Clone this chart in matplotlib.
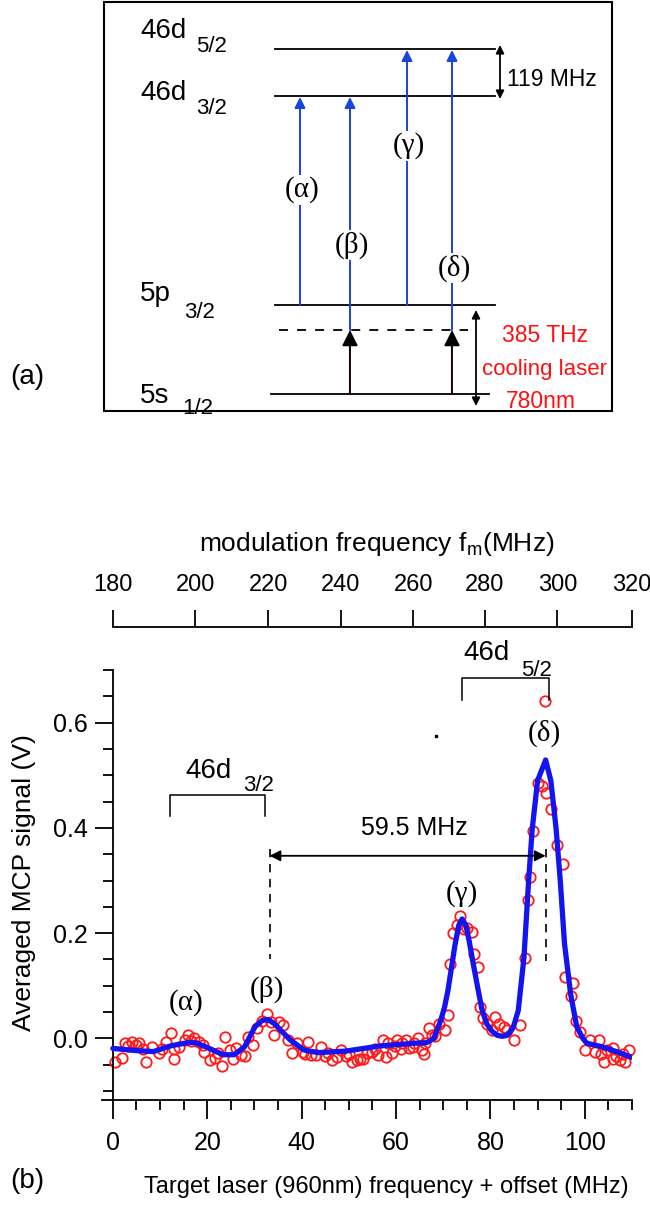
import numpy as np
import matplotlib
matplotlib.use('Agg')
import matplotlib.pyplot as plt
from matplotlib.patches import Rectangle

plt.rcParams['font.family'] = ['Liberation Sans', 'DejaVu Sans']
plt.rcParams['mathtext.fontset'] = 'custom'
plt.rcParams['mathtext.rm'] = 'Liberation Sans'

# ---- data (panel b) ----
# fitted curve (blue)
fit_x = [0.0, 4.8, 8.6, 12.3, 16.0, 17.5, 19.7, 23.4, 25.7, 27.9, 30.1, 31.6, 32.9,
         34.2, 35.3, 37.6, 40.5, 43.5, 49.4, 56.9, 64.3, 66.5, 68.0, 69.5, 70.3,
         71.0, 72.5, 73.3, 74.0, 74.8, 75.5, 76.4, 77.3, 78.2, 79.2, 80.3, 81.4,
         82.5, 83.6, 84.8, 85.9, 87.1, 88.1, 88.85, 90.0, 91.7, 92.8, 93.9, 94.8,
         95.7, 97.0, 98.3, 99.6, 100.4, 103.7, 106.7, 110.0]
fit_y = [-0.019, -0.023, -0.025, -0.014, -0.008, -0.008, -0.016, -0.031, -0.031,
         -0.016, 0.022, 0.034, 0.036, 0.028, 0.018, -0.003, -0.022, -0.027, -0.024,
         -0.014, -0.009, -0.008, 0.0, 0.035, 0.060, 0.091, 0.178, 0.215, 0.227,
         0.215, 0.185, 0.140, 0.097, 0.055, 0.028, 0.014, 0.006, 0.004, 0.006, 0.020,
         0.053, 0.153, 0.300, 0.397, 0.490, 0.529, 0.490, 0.400, 0.300, 0.180, 0.084,
         0.022, 0.000, -0.009, -0.016, -0.025, -0.036]

# measured points (red circles)
meas_x = [0.4, 1.9, 2.6, 4.1, 4.8, 5.6, 7.1, 8.2, 9.7, 11.2, 12.3, 13.0, 14.1, 15.2,
          16.0, 17.1, 18.2, 19.3, 20.5, 21.6, 23.1, 23.8, 24.9, 26.0, 27.1, 27.9,
          28.6, 29.7, 30.5, 31.6, 32.7, 33.5, 34.2, 35.3, 36.1, 37.2, 37.9, 39.0,
          40.2, 41.3, 42.0, 43.1, 44.2, 45.0, 46.5, 48.3, 49.4, 50.6, 51.7, 52.4,
          53.9, 55.0, 56.1, 57.3, 58.4, 59.1, 60.2, 61.3, 62.1, 62.8, 63.6, 64.7,
          65.4, 66.2, 66.9, 67.7, 69.1, 70.3, 71.0, 71.4, 72.1, 72.9, 73.6, 74.4,
          75.1, 76.2, 76.6, 77.3, 77.7, 78.4, 79.2, 80.3, 81.0, 81.8, 82.9, 83.6,
          85.1, 86.3, 87.4, 88.0, 88.3, 89.0, 90.1, 90.9, 91.5, 91.8, 92.8, 94.1,
          95.4, 95.9, 97.4, 97.0, 98.1, 98.9, 100.0, 101.1, 102.2, 103.0, 104.1,
          104.8, 106.0, 106.7, 107.4, 108.6, 109.3,
          3.2, 6.3, 10.4, 12.9, 16.6, 19.0, 22.3, 25.5, 40.8, 45.6, 47.4, 50.0,
          53.1, 55.6, 57.8, 59.7, 61.0, 63.9, 65.9, 68.3, 103.5, 106.0, 108.0]
meas_y = [-0.044, -0.038, -0.009, -0.006, -0.013, -0.009, -0.044, -0.016, -0.028,
          -0.006, 0.011, -0.039, -0.016, -0.003, 0.006, 0.000, -0.006, -0.025,
          -0.041, -0.038, -0.053, 0.002, -0.022, -0.019, -0.031, -0.034, 0.003,
          -0.013, 0.019, 0.034, 0.047, 0.031, 0.006, 0.031, 0.025, -0.003, -0.028,
          -0.009, -0.025, -0.006, -0.031, -0.031, -0.016, -0.034, -0.041, -0.022,
          -0.034, -0.044, -0.041, -0.039, -0.028, -0.025, -0.031, -0.003, -0.009,
          -0.028, -0.003, -0.009, -0.003, -0.019, -0.016, 0.000, -0.022, -0.009,
          0.019, 0.006, 0.028, 0.016, 0.044, 0.141, 0.200, 0.216, 0.233, 0.207,
          0.210, 0.203, 0.160, 0.135, 0.059, 0.038, 0.028, 0.016, 0.041, 0.028,
          0.022, 0.016, -0.003, 0.025, 0.153, 0.263, 0.307, 0.394, 0.486, 0.479,
          0.641, 0.466, 0.436, 0.368, 0.332, 0.116, 0.106, 0.081, 0.034, 0.013,
          -0.022, -0.003, -0.025, -0.003, -0.044, -0.022, -0.019, -0.034, -0.041,
          -0.044, -0.022,
          -0.015, -0.020, -0.020, -0.020, -0.004, -0.012, -0.028, -0.040, -0.030,
          -0.028, -0.035, -0.030, -0.040, -0.020, -0.035, -0.015, -0.020, -0.008,
          -0.030, 0.005, -0.030, -0.040, -0.030]

# top axis: modulation frequency ticks and where they fall on the bottom scale
top_ticks = [180, 200, 220, 240, 260, 280, 300, 320]
top_tick_pos = [0.0, 17.5, 32.9, 48.3, 63.7, 78.8, 94.2, 110.0]

peak_labels = ['(α)', '(β)', '(γ)', '(δ)']
peak_label_x = [15.6, 32.7, 74.0, 91.4]
peak_label_y = [0.069, 0.094, 0.275, 0.579]

# ---- data (panel a): level diagram, in pixel units of the figure ----
level_y = {'46d52': 49, '46d32': 96, '5p32': 305, 'virt': 330, '5s12': 394}
blue_x = [300, 350, 407, 452]
blue_from = [305, 330, 305, 330]
blue_to = [96, 96, 49, 49]
greek_y = [190, 245, 146, 268]

fig = plt.figure(figsize=(6.5, 12.11), dpi=100)

# overlay axes in pixel coordinates for panel (a) and labels
ov = fig.add_axes([0, 0, 1, 1])
ov.set_xlim(0, 650)
ov.set_ylim(1211, 0)
ov.axis('off')

ov.add_patch(Rectangle((104, 2), 508, 409, fill=False, ec='black', lw=1.5))

for key in ['46d52', '46d32', '5p32']:
    ov.plot([275, 495], [level_y[key]] * 2, color='black', lw=1.3)
ov.plot([279, 468], [level_y['virt']] * 2, color='black', lw=1.3, ls=(0, (5, 5)))
ov.plot([271, 489], [level_y['5s12']] * 2, color='black', lw=1.3)

# level names with subscripts
lev_fs, sub_fs = 20, 16
ov.text(140, 31, '46d', fontsize=lev_fs, va='center')
ov.text(196, 47, '5/2', fontsize=sub_fs, va='center')
ov.text(140, 93, '46d', fontsize=lev_fs, va='center')
ov.text(196, 108, '3/2', fontsize=sub_fs, va='center')
ov.text(140, 294, '5p', fontsize=lev_fs, va='center')
ov.text(184, 312, '3/2', fontsize=sub_fs, va='center')
ov.text(140, 396, '5s', fontsize=lev_fs, va='center')
ov.text(182, 409, '1/2', fontsize=sub_fs, va='center')

blue_c = '#1a44dc'
for x, y0, y1 in zip(blue_x, blue_from, blue_to):
    ov.annotate('', xy=(x, y1 + 1), xytext=(x, y0),
                arrowprops=dict(arrowstyle='-|>', color=blue_c, lw=1.4,
                                mutation_scale=16, shrinkA=0, shrinkB=0))
for x, y, lab in zip(blue_x, greek_y, peak_labels):
    ov.text(x + 2, y, lab, fontsize=21, family='Liberation Serif', ha='center',
            va='center', bbox=dict(fc='white', ec='none', pad=1))

# cooling laser arrows (black with a thin red edge)
for x in [350, 452]:
    ov.plot([x - 1, x - 1], [level_y['5s12'], level_y['virt'] + 12], color='#e01010', lw=0.8)
    ov.annotate('', xy=(x, level_y['virt']), xytext=(x, level_y['5s12']),
                arrowprops=dict(arrowstyle='-|>', color='black', lw=1.3,
                                mutation_scale=24, shrinkA=0, shrinkB=0))

# splitting arrows
ov.annotate('', xy=(500, 45), xytext=(500, 99),
            arrowprops=dict(arrowstyle='<|-|>', color='black', lw=1.3,
                            mutation_scale=12, shrinkA=0, shrinkB=0))
ov.text(507, 80, '119 MHz', fontsize=16.5, va='center')
ov.annotate('', xy=(476, 310), xytext=(476, 406),
            arrowprops=dict(arrowstyle='<|-|>', color='black', lw=1.3,
                            mutation_scale=12, shrinkA=0, shrinkB=0))
red_c = '#ff1010'
ov.text(545, 336, '385 THz', fontsize=16.5, color=red_c, ha='center', va='center')
ov.text(544, 369, 'cooling laser', fontsize=16, color=red_c, ha='center', va='center')
ov.text(541, 401, '780nm', fontsize=16.5, color=red_c, ha='center', va='center')

ov.text(10, 377, '(a)', fontsize=20, va='center')
ov.text(10, 1181, '(b)', fontsize=20, va='center')

# ---- panel (b) ----
ax = fig.add_axes([102 / 650, 1 - 1100 / 1211, 530 / 650, 430 / 1211])
ax.set_xlim(-2.3, 110)
ax.set_ylim(-0.117, 0.7)
ax.patch.set_visible(False)
for s in ['top', 'right']:
    ax.spines[s].set_visible(False)
ax.spines['left'].set_position(('data', 0))
ax.spines['left'].set_linewidth(1.3)
ax.spines['bottom'].set_linewidth(1.3)

ax.plot(meas_x, meas_y, 'o', ms=7.5, mfc='none', mec='#ff1a1a', mew=1.3,
        zorder=2, clip_on=False)
ax.plot(fit_x, fit_y, color='#1414f0', lw=3.8, zorder=3, solid_capstyle='round')

ax.set_xticks([0, 20, 40, 60, 80, 100])
ax.set_xticks(np.arange(0, 111, 5), minor=True)
ax.set_yticks([0.0, 0.2, 0.4, 0.6])
ax.set_yticklabels(['0.0', '0.2', '0.4', '0.6'])
ax.set_yticks(np.arange(-0.1, 0.71, 0.05), minor=True)
ax.tick_params(axis='x', which='major', direction='out', length=14, width=1.3,
               labelsize=18, pad=8)
ax.tick_params(axis='x', which='minor', direction='out', length=7, width=1.3)
ax.tick_params(axis='y', which='major', direction='out', length=13, width=1.3,
               labelsize=18, pad=5)
ax.tick_params(axis='y', which='minor', direction='out', length=7, width=1.3)
ax.set_ylabel('Averaged MCP signal (V)', fontsize=19)
ax.yaxis.set_label_coords(-0.125, 0.505)

fig.text(386 / 650, 1 - 1187 / 1211, 'Target laser (960nm) frequency + offset (MHz)',
         fontsize=17, ha='center', va='center')

sec = ax.secondary_xaxis(1.10)
sec.set_xticks(top_tick_pos, labels=[str(t) for t in top_ticks])
sec.spines['top'].set_bounds(0, 110)
sec.spines['top'].set_linewidth(1.3)
sec.tick_params(direction='out', length=12, width=1.3, labelsize=17, pad=10)
fig.text(377 / 650, 1 - 544 / 1211, r'modulation frequency f$_\mathregular{m}$(MHz)',
         fontsize=19, ha='center', va='center')

# peak labels
for lab, x, y in zip(peak_labels, peak_label_x, peak_label_y):
    ax.text(x, y, lab, fontsize=21, family='Liberation Serif', ha='center', va='center')

# 46d_3/2 and 46d_5/2 brackets
ax.plot([12.1, 12.1, 32.3, 32.3], [0.422, 0.462, 0.462, 0.422], color='black', lw=1.1)
ax.text(15.3, 0.508, '46d', fontsize=20, va='center')
ax.text(27.6, 0.480, '3/2', fontsize=16, va='center')
ax.plot([74.0, 74.0, 92.4, 92.4], [0.643, 0.685, 0.685, 0.643], color='black', lw=1.1,
        clip_on=False)
ax.text(74.3, 0.732, '46d', fontsize=20, va='center', clip_on=False)
ax.text(86.4, 0.700, '5/2', fontsize=16, va='center', clip_on=False)
ax.plot([68.4], [0.574], marker='s', ms=1.5, color='black')

# 59.5 MHz spacing
ax.annotate('', xy=(91.7, 0.347), xytext=(33.2, 0.347),
            arrowprops=dict(arrowstyle='<|-|>', color='black', lw=1.3,
                            mutation_scale=16, shrinkA=0, shrinkB=0))
ax.text(63.8, 0.40, '59.5 MHz', fontsize=18, ha='center', va='center')
ax.plot([33.2, 33.2], [0.36, 0.150], color='black', lw=1.2, ls=(0, (5, 4)))
ax.plot([91.7, 91.7], [0.36, 0.147], color='black', lw=1.2, ls=(0, (5, 4)), zorder=4)

fig.savefig('out.png', dpi=100)
